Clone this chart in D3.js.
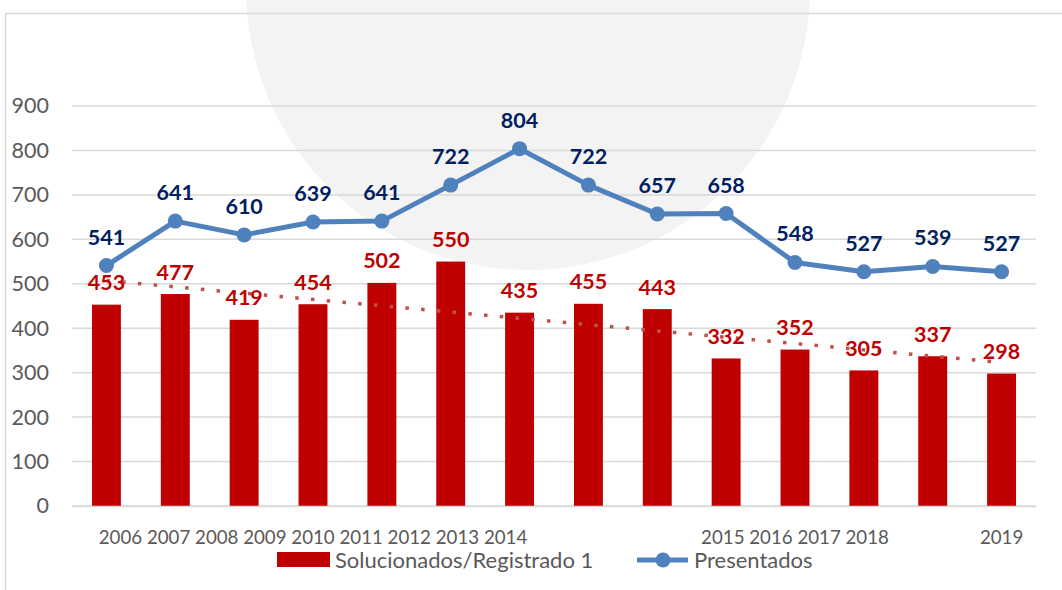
<!DOCTYPE html>
<html>
<head>
<meta charset="utf-8">
<script src="https://cdn.jsdelivr.net/npm/d3@7"></script>
<style>
  html, body { margin: 0; padding: 0; background: #ffffff; }
  svg { display: block; font-family: Lato, "Open Sans", sans-serif; }
</style>
</head>
<body>
<svg id="chart" width="1062" height="590"></svg>
<script>
// ---- data ----
const years = ["2006","2007","2008","2009","2010","2011","2012","2013","2014","2015","2016","2017","2018","2019"];
const solucionados = [453, 477, 419, 454, 502, 550, 435, 455, 443, 332, 352, 305, 337, 298];
const presentados = [541, 641, 610, 639, 641, 722, 804, 722, 657, 658, 548, 527, 539, 527];
const yTicks = [0, 100, 200, 300, 400, 500, 600, 700, 800, 900];
const xTickLabels = ["", "", "", "2006 2007 2008 2009 2010 2011 2012 2013 2014", "", "", "", "", "", "", "2015 2016 2017 2018", "", "", "2019"];
const seriesNames = ["Solucionados/Registrado 1", "Presentados"];

(function () {
// ---- setup ----
const svg = d3.select("#chart");
const pLeft = 72, pRight = 1036, pTop = 106, pBottom = 506;

const x = d3.scaleBand().domain(years).range([pLeft, pRight]).paddingInner(0.58).paddingOuter(0.29);
const y = d3.scaleLinear().domain([0, 900]).range([pBottom, pTop]);

const RED = "#C00000", BLUE = "#4F81BD", NAVY = "#002060", GRAY = "#595959", GRID = "#D9D9D9";

// faint background seal (watermark of the source page)
svg.append("circle").attr("cx", 528).attr("cy", -12).attr("r", 282).attr("fill", "#f3f3f3");

// outer frame
svg.append("rect").attr("x", 5.5).attr("y", 13.5).attr("width", 1200).attr("height", 700)
  .attr("fill", "none").attr("stroke", GRID).attr("stroke-width", 1.5);

// gridlines
svg.append("g").selectAll("line").data(yTicks).join("line")
  .attr("x1", pLeft).attr("x2", pRight)
  .attr("y1", d => y(d)).attr("y2", d => y(d))
  .attr("stroke", GRID).attr("stroke-width", 1.5);

// y axis labels
const yAxis = d3.axisLeft(y).tickValues(yTicks).tickSize(0).tickPadding(0);
const yg = svg.append("g").attr("transform", "translate(49,0)").call(yAxis);
yg.select(".domain").remove();
yg.selectAll("text").attr("font-size", 21.5).attr("fill", GRAY).attr("font-family", "Lato, sans-serif").attr("x", 0);

// bars
svg.append("g").selectAll("rect").data(years).join("rect")
  .attr("x", d => x(d)).attr("width", x.bandwidth())
  .attr("y", (d, i) => y(solucionados[i]))
  .attr("height", (d, i) => y(0) - y(solucionados[i]))
  .attr("fill", RED);

// x axis
const xAxis = d3.axisBottom(x).tickSize(0).tickPadding(0).tickFormat((d, i) => xTickLabels[i]);
const xg = svg.append("g").attr("transform", `translate(0,${pBottom})`).call(xAxis);
xg.select(".domain").attr("stroke", GRID).attr("stroke-width", 1.5);
xg.selectAll("text").attr("font-size", 18.7).attr("fill", GRAY).attr("font-family", "Lato, sans-serif")
  .attr("y", 38).attr("dy", 0);

// linear trendline of bars
const n = solucionados.length;
const mx = d3.mean(d3.range(n)), my = d3.mean(solucionados);
const slope = d3.sum(d3.range(n), i => (i - mx) * (solucionados[i] - my)) / d3.sum(d3.range(n), i => (i - mx) ** 2);
const intercept = my - slope * mx;
const cx = d => x(d) + x.bandwidth() / 2;
svg.append("line")
  .attr("x1", cx(years[0])).attr("y1", y(intercept))
  .attr("x2", cx(years[n - 1])).attr("y2", y(intercept + slope * (n - 1)))
  .attr("stroke", "#C0504D").attr("stroke-width", 3.5).attr("stroke-dasharray", "3.5 12.3");

// line series
const line = d3.line().x((d, i) => cx(years[i])).y(d => y(d));
svg.append("path").datum(presentados).attr("d", line)
  .attr("fill", "none").attr("stroke", BLUE).attr("stroke-width", 5).attr("stroke-linejoin", "round");
svg.append("g").selectAll("circle").data(presentados).join("circle")
  .attr("cx", (d, i) => cx(years[i])).attr("cy", d => y(d)).attr("r", 7.5).attr("fill", BLUE);

// data labels
svg.append("g").selectAll("text").data(solucionados).join("text")
  .attr("x", (d, i) => cx(years[i])).attr("y", d => y(d) - 14.5)
  .attr("text-anchor", "middle").attr("font-size", 21.5).attr("font-weight", "bold").attr("fill", RED)
  .text(d => d);
svg.append("g").selectAll("text").data(presentados).join("text")
  .attr("x", (d, i) => cx(years[i])).attr("y", d => y(d) - 21)
  .attr("text-anchor", "middle").attr("font-size", 21.5).attr("font-weight", "bold").attr("fill", NAVY)
  .text(d => d);

// legend
const lg = svg.append("g").attr("font-size", 22).attr("fill", GRAY);
lg.append("rect").attr("x", 277).attr("y", 552).attr("width", 53).attr("height", 15).attr("fill", RED);
lg.append("text").attr("x", 335).attr("y", 568).text(seriesNames[0]);
lg.append("line").attr("x1", 637).attr("x2", 688).attr("y1", 560).attr("y2", 560).attr("stroke", BLUE).attr("stroke-width", 5);
lg.append("circle").attr("cx", 663).attr("cy", 560).attr("r", 7.5).attr("fill", BLUE);
lg.append("text").attr("x", 694).attr("y", 568).text(seriesNames[1]);
})();
</script>
</body>
</html>
